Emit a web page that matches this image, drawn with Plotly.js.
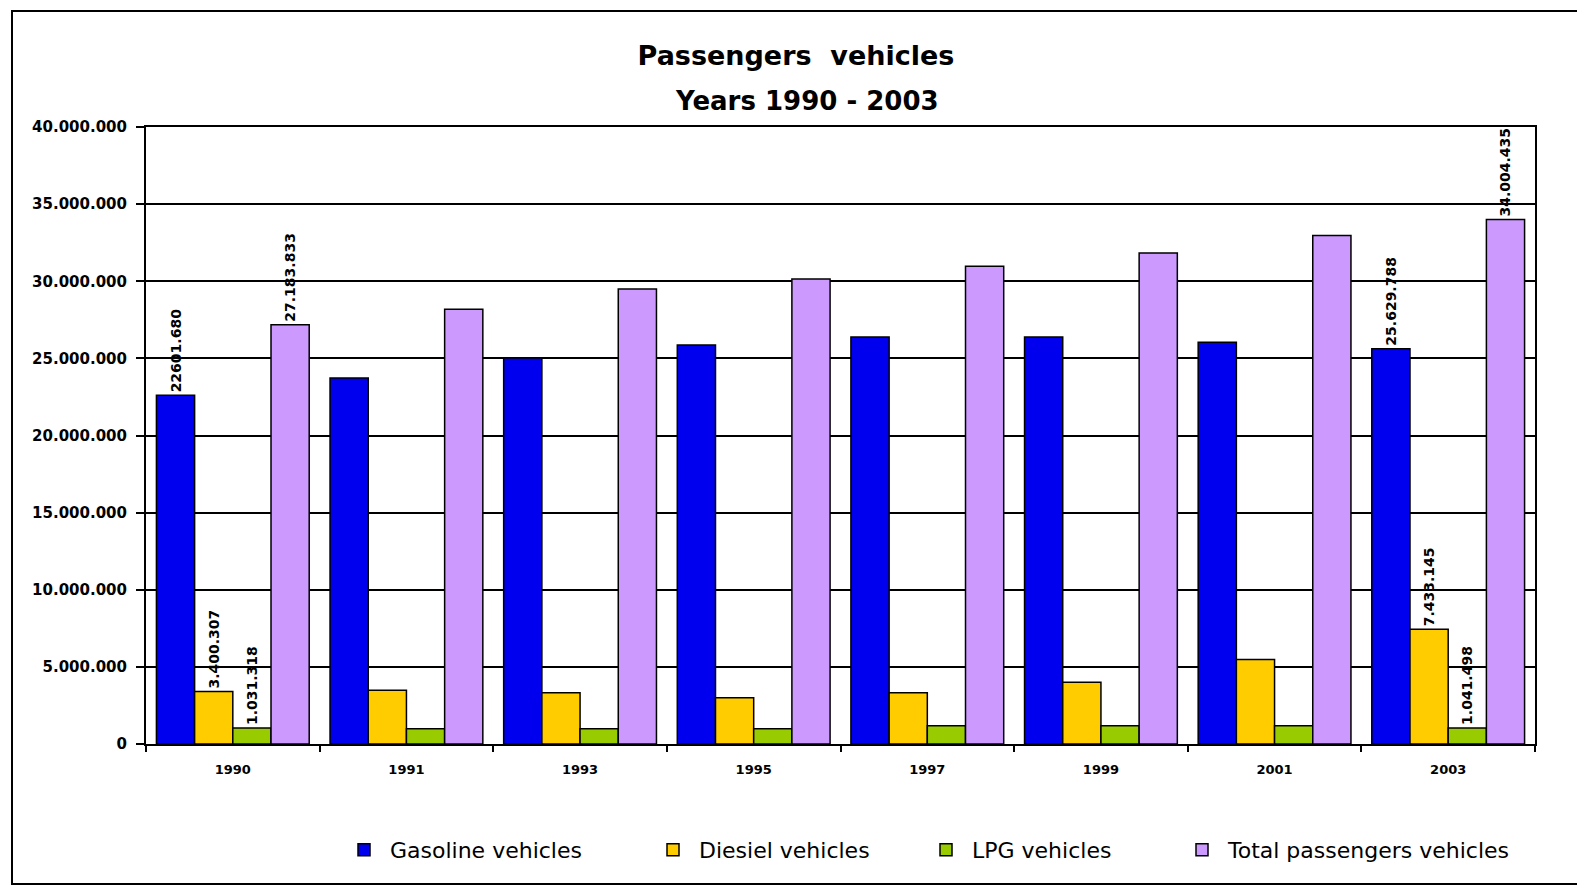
<!DOCTYPE html>
<html>
<head>
<meta charset="utf-8">
<script src="https://cdn.plot.ly/plotly-3.0.1.min.js"></script>
<style>
  html, body { margin: 0; padding: 0; background: #ffffff; }
  #chart { width: 1577px; height: 889px; }
</style>
</head>
<body>
<div id="chart"></div>
<script>
// ---- data ----
const categories = ['1990', '1991', '1993', '1995', '1997', '1999', '2001', '2003'];

const seriesNames = ['Gasoline vehicles', 'Diesiel vehicles', 'LPG vehicles', 'Total passengers vehicles'];

const gasoline = [22601680, 23720000, 25020000, 25860000, 26380000, 26380000, 26040000, 25629788];
const diesel   = [3400307, 3480000, 3330000, 3000000, 3330000, 4000000, 5480000, 7433145];
const lpg      = [1031318, 990000, 990000, 990000, 1180000, 1180000, 1180000, 1041498];
const total    = [27183833, 28180000, 29500000, 30140000, 30980000, 31830000, 32970000, 34004435];

const gasolineLabels = ['22601.680', '', '', '', '', '', '', '25.629.788'];
const dieselLabels   = ['3.400.307', '', '', '', '', '', '', '7.433.145'];
const lpgLabels      = ['1.031.318', '', '', '', '', '', '', '1.041.498'];
const totalLabels    = ['27.183.833', '', '', '', '', '', '', '34.004.435'];

const yTickVals = [0, 5000000, 10000000, 15000000, 20000000, 25000000, 30000000, 35000000, 40000000];

// ---- styles ----
const colors = ['#0000ee', '#ffcc00', '#99cc00', '#cc99ff'];
const labelFont = { family: 'DejaVu Sans', size: 14, color: '#000000', weight: 'bold' };
const legendIds = ['legend', 'legend2', 'legend3', 'legend4'];

function barTrace(i, values, labels) {
  return {
    type: 'bar',
    name: seriesNames[i],
    legend: legendIds[i],
    x: categories,
    y: values,
    text: labels,
    textposition: 'outside',
    textangle: -90,
    constraintext: 'none',
    textfont: labelFont,
    cliponaxis: false,
    hoverinfo: 'x+y+name',
    marker: { color: colors[i], line: { color: '#000000', width: 1.5 } }
  };
}

const data = [
  barTrace(0, gasoline, gasolineLabels),
  barTrace(1, diesel, dieselLabels),
  barTrace(2, lpg, lpgLabels),
  barTrace(3, total, totalLabels)
];

const L = 146, R = 42, T = 127, B = 145;
const W = 1577, H = 889;
const pw = W - L - R, ph = H - T - B;
function px2x(px) { return (px - L) / pw; }
function py2y(py) { return (H - B - py) / ph; }

function legendAt(px) {
  return {
    orientation: 'h',
    x: px2x(px), xanchor: 'left',
    y: py2y(850), yanchor: 'middle',
    font: { family: 'DejaVu Sans', size: 22, color: '#000000' },
    itemwidth: 42,
    bgcolor: 'rgba(0,0,0,0)'
  };
}

const layout = {
  width: W,
  height: H,
  separators: ',.',
  paper_bgcolor: '#ffffff',
  plot_bgcolor: '#ffffff',
  margin: { l: L, r: R, t: T, b: B },
  font: { family: 'DejaVu Sans', color: '#000000' },
  title: {
    text: 'Passengers&nbsp; vehicles',
    font: { family: 'DejaVu Sans', size: 27, color: '#000000', weight: 'bold' },
    x: 796 / W,
    xanchor: 'center',
    xref: 'container',
    y: 1 - 56 / H,
    yanchor: 'middle',
    yref: 'container'
  },
  annotations: [{
    text: 'Years 1990 - 2003',
    xref: 'paper', yref: 'paper',
    x: px2x(807), y: py2y(101),
    xanchor: 'center', yanchor: 'middle',
    showarrow: false,
    font: { family: 'DejaVu Sans', size: 26, color: '#000000', weight: 'bold' }
  }],
  barmode: 'group',
  bargap: 0.12,
  bargroupgap: 0,
  showlegend: true,
  legend: legendAt(338),
  legend2: legendAt(647),
  legend3: legendAt(920),
  legend4: legendAt(1176),
  xaxis: {
    type: 'category',
    categoryorder: 'array',
    categoryarray: categories,
    showline: true,
    linecolor: '#000000',
    linewidth: 2,
    mirror: true,
    ticks: 'outside',
    tickson: 'boundaries',
    ticklen: 6,
    tickwidth: 2,
    tickcolor: '#000000',
    ticklabelstandoff: 12,
    tickfont: { family: 'DejaVu Sans', size: 13, color: '#000000', weight: 'bold' },
    showgrid: false,
    zeroline: false
  },
  yaxis: {
    range: [0, 40000000],
    tickmode: 'array',
    tickvals: yTickVals,
    tickformat: ',d',
    showline: true,
    linecolor: '#000000',
    linewidth: 2,
    mirror: true,
    ticks: 'outside',
    ticklen: 8,
    tickwidth: 2,
    tickcolor: '#000000',
    ticklabelstandoff: 6,
    tickfont: { family: 'DejaVu Sans', size: 15, color: '#000000', weight: 'bold' },
    showgrid: true,
    gridcolor: '#000000',
    gridwidth: 2,
    zeroline: false
  },
  shapes: [{
    type: 'rect',
    xref: 'paper', yref: 'paper',
    x0: px2x(12), x1: px2x(1600),
    y0: py2y(884), y1: py2y(11),
    line: { color: '#000000', width: 2 },
    fillcolor: 'rgba(0,0,0,0)',
    layer: 'below'
  }]
};

Plotly.newPlot('chart', data, layout, { displayModeBar: false, responsive: false });
</script>
</body>
</html>
